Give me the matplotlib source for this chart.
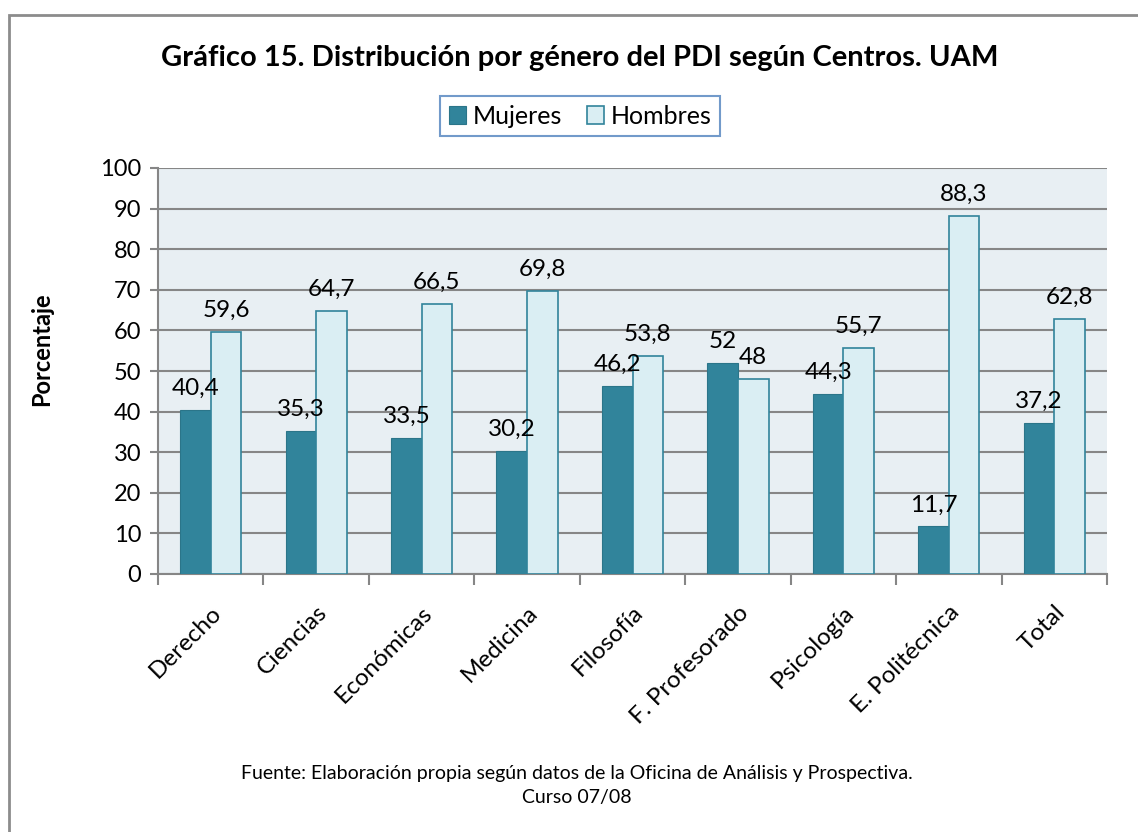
import matplotlib
matplotlib.use("Agg")
import matplotlib.pyplot as plt
import numpy as np

centros = ["Derecho", "Ciencias", "Económicas", "Medicina", "Filosofía",
           "F. Profesorado", "Psicología", "E. Politécnica", "Total"]
mujeres = [40.4, 35.3, 33.5, 30.2, 46.2, 52, 44.3, 11.7, 37.2]
hombres = [59.6, 64.7, 66.5, 69.8, 53.8, 48, 55.7, 88.3, 62.8]

plt.rcParams["font.family"] = ["Lato", "DejaVu Sans"]

fig = plt.figure(figsize=(11.38, 8.32), dpi=100)
# outer chart frame
fig.add_artist(plt.Rectangle((9 / 1138, -0.1), 1.2, 1 - 15 / 832 + 0.1,
                             transform=fig.transFigure, fill=False,
                             edgecolor="#8c8c8c", linewidth=2))

ax = fig.add_axes([158 / 1138, 1 - 574 / 832, (1107 - 158) / 1138, (574 - 168) / 832])
ax.set_facecolor("#E8EFF3")

x = np.arange(len(centros))
w = 0.29
b1 = ax.bar(x - w / 2, mujeres, w, color="#31849B", edgecolor="#2b7589", linewidth=0.8,
            label="Mujeres", zorder=3)
b2 = ax.bar(x + w / 2, hombres, w, color="#DAEEF3", edgecolor="#31849B", linewidth=1.2,
            label="Hombres", zorder=3)


def fmt(v):
    return ("%g" % v).replace(".", ",")


for bars, vals in ((b1, mujeres), (b2, hombres)):
    for r, v in zip(bars, vals):
        ax.annotate(fmt(v), (r.get_x() + r.get_width() / 2, v), xytext=(0, 8),
                    textcoords="offset points", ha="center", va="bottom",
                    fontsize=17.5, zorder=4)

ax.set_ylim(0, 100)
ax.set_xlim(-0.5, len(centros) - 0.5)
ax.set_yticks(range(0, 101, 10))
ax.tick_params(axis="y", labelsize=17, length=6, width=1.5, color="#868686", pad=6)
ax.yaxis.grid(True, color="#868686", linewidth=1.5, zorder=0)
ax.set_axisbelow(True)

ax.set_xticks(x)
ax.set_xticklabels(centros, rotation=45, ha="right", rotation_mode="anchor", fontsize=17.5)
ax.tick_params(axis="x", length=0, pad=20)
ax.set_xticks(np.arange(-0.5, len(centros)), minor=True)
ax.tick_params(axis="x", which="minor", length=8, width=1.5, color="#868686")

for s in ("top", "right"):
    ax.spines[s].set_visible(False)
for s in ("left", "bottom"):
    ax.spines[s].set_color("#868686")
    ax.spines[s].set_linewidth(1.5)

fig.text(42 / 1138, 1 - 349 / 832, "Porcentaje", rotation=90, ha="center", va="center",
         fontsize=17, fontweight="bold")

fig.text(580 / 1138, 1 - 58 / 832,
         "Gráfico 15. Distribución por género del PDI según Centros. UAM",
         ha="center", va="center", fontsize=21, fontweight="bold")

leg = fig.legend(handles=[b1, b2], loc="center", bbox_to_anchor=(580 / 1138, 1 - 116 / 832),
                 ncol=2, fontsize=18, frameon=True, fancybox=False, handlelength=0.7,
                 handleheight=0.7, handletextpad=0.25, columnspacing=1.0, borderpad=0.35)
leg.get_frame().set_edgecolor("#4F81BD")
leg.get_frame().set_linewidth(1.5)

fig.text(577 / 1138, 1 - 773 / 832,
         "Fuente: Elaboración propia según datos de la Oficina de Análisis y Prospectiva.",
         ha="center", va="center", fontsize=14)
fig.text(577 / 1138, 1 - 797 / 832, "Curso 07/08", ha="center", va="center", fontsize=14)

fig.savefig("out.png", dpi=100)
